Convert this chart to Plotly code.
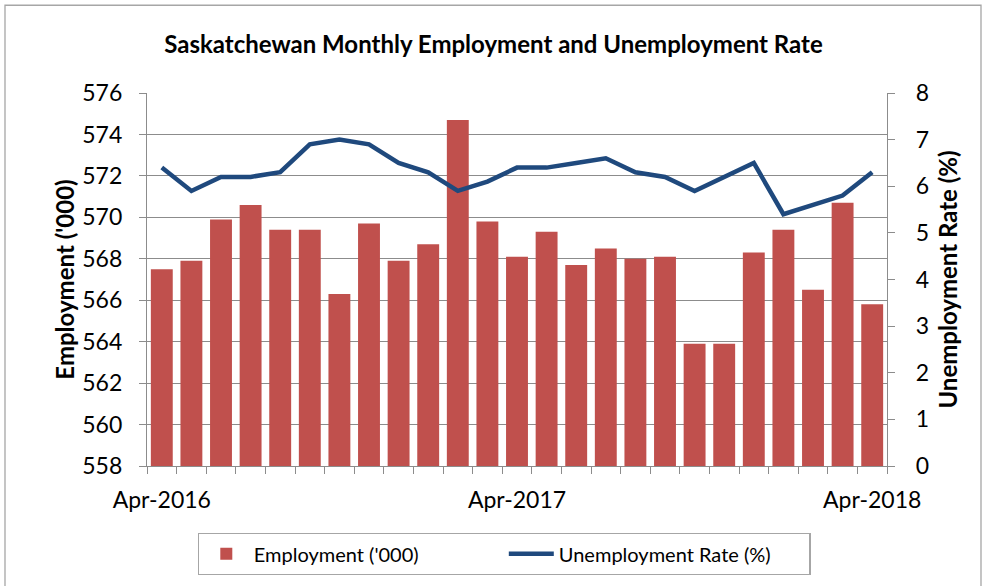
import plotly.graph_objects as go

months = ["Apr-2016", "May-2016", "Jun-2016", "Jul-2016", "Aug-2016", "Sep-2016",
          "Oct-2016", "Nov-2016", "Dec-2016", "Jan-2017", "Feb-2017", "Mar-2017",
          "Apr-2017", "May-2017", "Jun-2017", "Jul-2017", "Aug-2017", "Sep-2017",
          "Oct-2017", "Nov-2017", "Dec-2017", "Jan-2018", "Feb-2018", "Mar-2018",
          "Apr-2018"]
employment = [567.5, 567.9, 569.9, 570.6, 569.4, 569.4, 566.3, 569.7, 567.9, 568.7,
              574.7, 569.8, 568.1, 569.3, 567.7, 568.5, 568.0, 568.1, 563.9, 563.9,
              568.3, 569.4, 566.5, 570.7, 565.8]
unemployment = [6.4, 5.9, 6.2, 6.2, 6.3, 6.9, 7.0, 6.9, 6.5, 6.3, 5.9, 6.1, 6.4, 6.4,
                6.5, 6.6, 6.3, 6.2, 5.9, 6.2, 6.5, 5.4, 5.6, 5.8, 6.3]
label_months = ["Apr-2016", "Apr-2017", "Apr-2018"]

FONT = "Lato"
GRID = "#8c8c8c"

fig = go.Figure()
fig.add_trace(go.Bar(x=months, y=employment, name="Employment ('000)",
                     marker=dict(color="#C0504D", line=dict(width=0)),
                     yaxis="y", xaxis="x"))
fig.add_trace(go.Scatter(x=months, y=unemployment, name="Unemployment Rate (%)",
                         mode="lines", line=dict(color="#1F497D", width=4.5),
                         yaxis="y2", xaxis="x"))
# invisible trace to anchor the label axis
fig.add_trace(go.Scatter(x=months, y=[None] * len(months), xaxis="x2", yaxis="y",
                         showlegend=False, hoverinfo="skip"))

fig.update_layout(
    width=987, height=586,
    paper_bgcolor="white", plot_bgcolor="white",
    margin=dict(l=147, r=100, t=93, b=119),
    font=dict(family=FONT, color="black"),
    bargap=0.26,
    title=dict(text="<b>Saskatchewan Monthly Employment and Unemployment Rate</b>",
               x=0.5, xref="container", xanchor="center",
               y=1 - 45 / 586, yref="container", yanchor="middle",
               font=dict(size=24, family=FONT)),
    xaxis=dict(type="category", range=[-0.5, 24.5], tickson="boundaries",
               showticklabels=False, ticks="outside", ticklen=7, tickcolor=GRID,
               showline=True, linecolor=GRID, linewidth=1.3, showgrid=False),
    xaxis2=dict(type="category", overlaying="x", side="bottom",
                range=[-0.5, 24.5], categoryarray=months, categoryorder="array",
                tickmode="array", tickvals=label_months, ticktext=label_months,
                ticks="", showline=False, showgrid=False, ticklabelstandoff=18,
                tickfont=dict(size=23, family=FONT)),
    yaxis=dict(range=[558, 576], dtick=2, tick0=558, showgrid=True,
               gridcolor=GRID, gridwidth=1.3, showline=True, linecolor=GRID,
               linewidth=1.3, ticks="outside", ticklen=7, tickcolor=GRID,
               zeroline=False, tickfont=dict(size=23, family=FONT),
               ticklabelstandoff=12,
               title=dict(text="<b>Employment ('000)</b>", font=dict(size=24, family=FONT),
                          standoff=0)),
    yaxis2=dict(range=[0, 8], dtick=1, overlaying="y", side="right", showgrid=False,
                showline=True, linecolor=GRID, linewidth=1.3, ticks="outside",
                ticklen=7, tickcolor=GRID, zeroline=False,
                tickfont=dict(size=23, family=FONT), ticklabelstandoff=16,
                title=dict(text="<b>Unemployment Rate (%)</b>", font=dict(size=24, family=FONT),
                           standoff=12)),
    legend=dict(orientation="h", x=(504 - 147) / 740, xanchor="center",
                y=(467 - 554) / 374, yanchor="middle",
                bordercolor="#a6a6a6", borderwidth=1.3, font=dict(size=20, family=FONT),
                traceorder="normal", itemwidth=45, entrywidth=245,
                entrywidthmode="pixels"),
    showlegend=True,
)

# chart-area border
fig.add_shape(type="rect", xref="paper", yref="paper",
              x0=(5 - 147) / 740, x1=(981 - 147) / 740,
              y0=(467 - 600) / 374, y1=(467 - 5) / 374,
              line=dict(color="#a6a6a6", width=1.3), fillcolor="rgba(0,0,0,0)")

fig.write_html("out.html", config={"displayModeBar": False},
               post_script="document.body.style.margin='0';")
